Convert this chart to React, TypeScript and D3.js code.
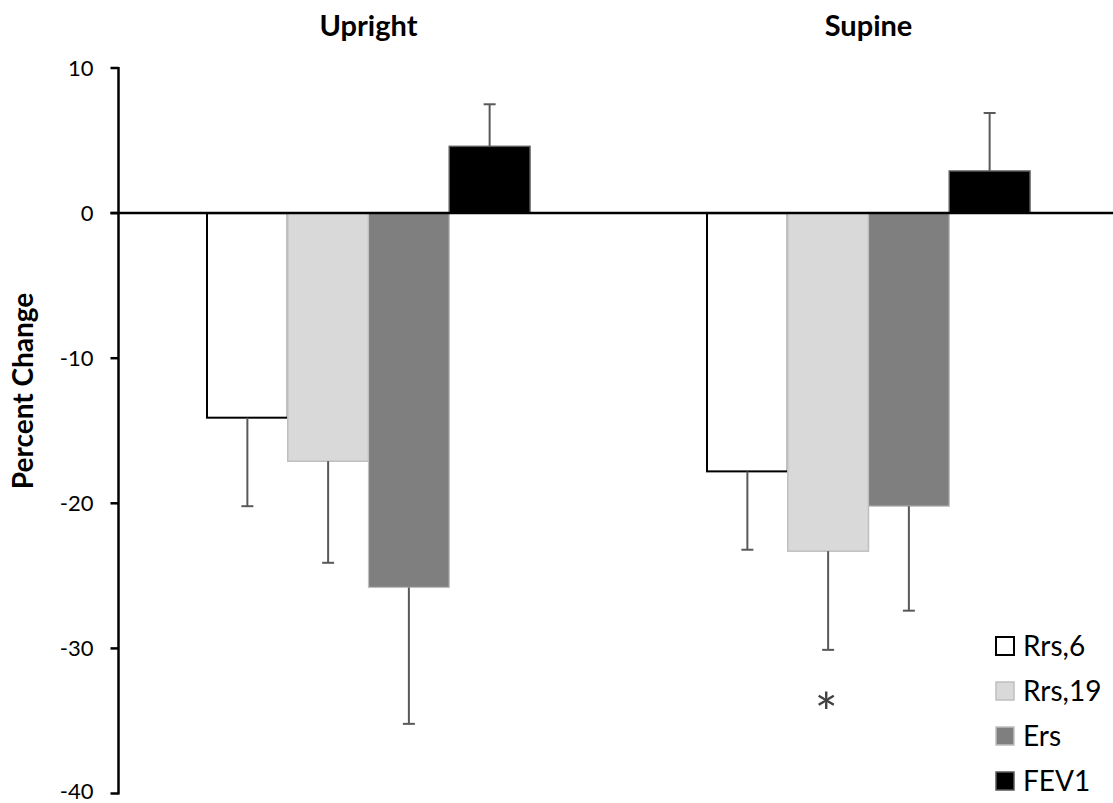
import React from "react";
import * as d3 from "d3";

// Groups, series and values (percent change)
const groups = ["Upright", "Supine"];
const seriesNames = ["Rrs,6", "Rrs,19", "Ers", "FEV1"];
const uprightValues = [-14.1, -17.1, -25.8, 4.6];
const supineValues = [-17.8, -23.3, -20.2, 2.9];
const uprightErrors = [6.1, 7.0, 9.4, 2.9];
const supineErrors = [5.4, 6.8, 7.2, 4.0];
const yTicks = [10, 0, -10, -20, -30, -40];
const significance = [{ group: "Supine", series: "Rrs,19", mark: "*" }];

const fills = ["#ffffff", "#d9d9d9", "#7f7f7f", "#000000"];
const strokes = ["#000000", "#bfbfbf", "#bfbfbf", "#595959"];
const strokeWidths = [2, 1.5, 1.2, 1.5];

const W = 1113;
const H = 803;
const FONT = "Lato, 'Open Sans', sans-serif";

export default function App() {
  const axisX = 118.5;
  const y = d3.scaleLinear().domain([-40, 10]).range([793.5, 68]);
  const x0 = d3.scaleBand<string>().domain(groups).range([axisX, axisX + 1000]);
  const groupWidth = 323;
  const x1 = d3.scaleBand<string>().domain(seriesNames).range([0, groupWidth]);
  const groupLeft = (g: string) => (x0(g) as number) + (x0.bandwidth() - groupWidth) / 2;

  const rows = groups.map((g, gi) => ({
    group: g,
    values: gi === 0 ? uprightValues : supineValues,
    errors: gi === 0 ? uprightErrors : supineErrors,
  }));

  const legendX = 996;
  const legendY0 = 646;
  const legendStep = 45;
  const box = 18;

  return (
    <svg
      width={W}
      height={H}
      style={{ position: "absolute", left: 0, top: 0, background: "#fff" }}
      fontFamily={FONT}
    >
      <rect x={0} y={0} width={W} height={H} fill="#fff" />

      {/* group titles */}
      {groups.map((g) => (
        <text
          key={g}
          x={(x0(g) as number) + x0.bandwidth() / 2}
          y={36}
          textAnchor="middle"
          fontWeight="bold"
          fontSize={29}
          fill="#000"
        >
          {g}
        </text>
      ))}

      {/* bars */}
      {rows.map((r) =>
        r.values.map((v, i) => {
          const s = seriesNames[i];
          const bx = groupLeft(r.group) + (x1(s) as number);
          const top = y(Math.max(0, v));
          const bottom = y(Math.min(0, v));
          return (
            <rect
              key={r.group + s}
              x={bx}
              y={top}
              width={x1.bandwidth()}
              height={bottom - top}
              fill={fills[i]}
              stroke={strokes[i]}
              strokeWidth={strokeWidths[i]}
            />
          );
        })
      )}

      {/* error bars */}
      {rows.map((r) =>
        r.values.map((v, i) => {
          const s = seriesNames[i];
          const cx = groupLeft(r.group) + (x1(s) as number) + x1.bandwidth() / 2;
          const end = v < 0 ? v - r.errors[i] : v + r.errors[i];
          return (
            <g key={"e" + r.group + s} stroke="#595959" strokeWidth={2}>
              <line x1={cx} x2={cx} y1={y(v)} y2={y(end)} />
              <line x1={cx - 6} x2={cx + 6} y1={y(end)} y2={y(end)} />
            </g>
          );
        })
      )}

      {/* zero line */}
      <line x1={axisX - 8} x2={W} y1={y(0)} y2={y(0)} stroke="#000" strokeWidth={2.5} />

      {/* y axis */}
      <line x1={axisX} x2={axisX} y1={y(10) - 1} y2={y(-40) + 1} stroke="#000" strokeWidth={2.5} />
      {yTicks.map((t) => (
        <g key={t}>
          <line x1={axisX - 8} x2={axisX} y1={y(t)} y2={y(t)} stroke="#000" strokeWidth={2.5} />
          <text
            x={axisX - 25}
            y={t === -40 ? y(t) - 2 : y(t)}
            dy="0.36em"
            textAnchor="end"
            fontSize={22}
            fill="#000"
          >
            {t}
          </text>
        </g>
      ))}
      <text
        transform={`translate(33, 391) rotate(-90)`}
        textAnchor="middle"
        fontWeight="bold"
        fontSize={28}
        fill="#000"
      >
        Percent Change
      </text>

      {/* significance marks */}
      {significance.map((m) => {
        const gi = groups.indexOf(m.group);
        const si = seriesNames.indexOf(m.series);
        const v = rows[gi].values[si];
        const e = rows[gi].errors[si];
        const cx = groupLeft(m.group) + (x1(m.series) as number) + x1.bandwidth() / 2;
        return (
          <text
            key={m.group + m.series}
            x={cx - 2}
            y={y(v - e) + 82}
            textAnchor="middle"
            fontSize={54}
            fill="#404040"
          >
            {m.mark}
          </text>
        );
      })}

      {/* legend */}
      {seriesNames.map((s, i) => {
        const cy = legendY0 + i * legendStep;
        return (
          <g key={"l" + s}>
            <rect
              x={legendX}
              y={cy - box / 2}
              width={box}
              height={box}
              fill={fills[i]}
              stroke={i === 0 ? "#000" : strokes[i]}
              strokeWidth={i === 0 ? 2 : 1.5}
            />
            <text x={1023} y={cy} dy="0.36em" fontSize={28} fill="#000">
              {s}
            </text>
          </g>
        );
      })}
    </svg>
  );
}
